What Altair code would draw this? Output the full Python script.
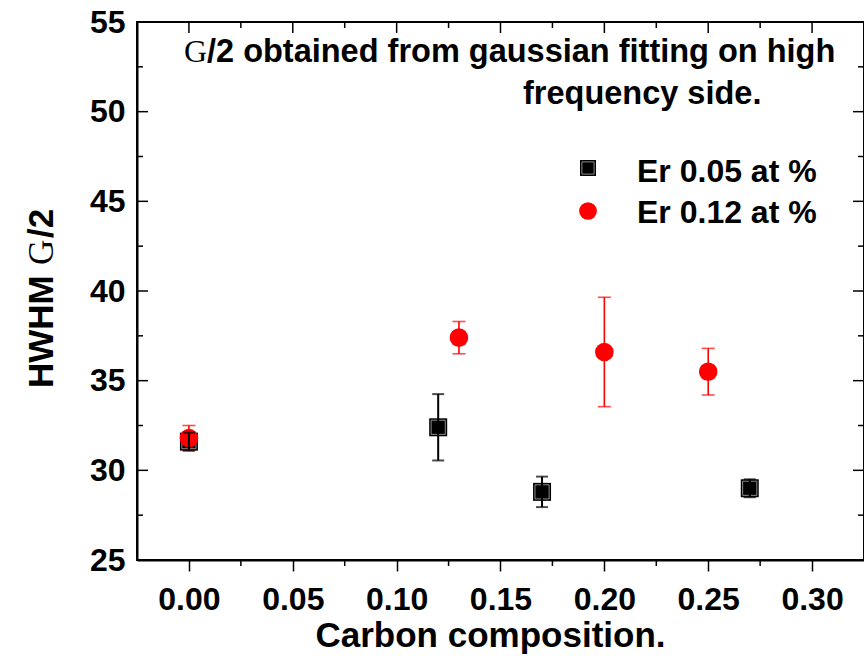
import altair as alt
import pandas as pd

# ---- data ----
X_BLACK = [0.00, 0.12, 0.17, 0.27]
Y_BLACK = [31.6, 32.4, 28.8, 29.0]
E_BLACK = [0.5, 1.85, 0.85, 0.5]

X_RED = [0.00, 0.13, 0.20, 0.25]
Y_RED = [31.8, 37.4, 36.6, 35.5]
E_RED = [0.7, 0.9, 3.05, 1.3]

X_MAJOR = [0.00, 0.05, 0.10, 0.15, 0.20, 0.25, 0.30]
X_MINOR = [0.025, 0.075, 0.125, 0.175, 0.225, 0.275]
Y_MAJOR = [25, 30, 35, 40, 45, 50, 55]
Y_MINOR = [27.5, 32.5, 37.5, 42.5, 47.5, 52.5]

SERIES = ["Er 0.05 at %", "Er 0.12 at %"]
NOTE_1 = "/2 obtained from gaussian fitting on high"
NOTE_2 = "frequency side."
X_TITLE = "Carbon composition."

W, H = 727, 538
SANS = "Liberation Sans"
SERIF = "Liberation Serif"
FS = 32

xs = alt.Scale(domain=[-0.025, 0.325], nice=False, zero=False)
ys = alt.Scale(domain=[25, 55], nice=False, zero=False)

AX_X = alt.Axis(values=X_MAJOR, format=".2f", tickSize=11, tickWidth=1.5,
                tickColor="black", domainColor="black", domainWidth=2,
                labelFont=SANS, labelFontSize=FS, labelFontWeight="bold",
                labelColor="black", labelPadding=13, grid=False,
                title=X_TITLE, titleFont=SANS, titleFontSize=35,
                titleFontWeight="bold", titleColor="black",
                titleX=353, titleY=86, titleBaseline="alphabetic",
                titleAlign="center")
AX_Y = alt.Axis(values=Y_MAJOR, ticks=False, tickSize=0, domainColor="black",
                domainWidth=2, labelFont=SANS, labelFontSize=FS,
                labelFontWeight="bold", labelColor="black", labelPadding=12,
                grid=False, title=None)

black = pd.DataFrame({"x": X_BLACK, "y": Y_BLACK, "e": E_BLACK})
red = pd.DataFrame({"x": X_RED, "y": Y_RED, "e": E_RED})

def X(field="x"):
    return alt.X(f"{field}:Q", scale=xs, axis=AX_X)

def Y(field="y"):
    return alt.Y(f"{field}:Q", scale=ys, axis=AX_Y)

# --- black squares ---
sq = alt.Chart(black).mark_point(shape="square", filled=True, color="black",
                                 size=324, opacity=1).encode(x=X(), y=Y())
sq_line = alt.Chart(black).mark_point(shape="square", filled=False, color="#b0b0b0",
                                      strokeWidth=0.8, size=200, opacity=1).encode(
    x=X(), y=Y())

circ = alt.Chart(red).mark_point(shape="circle", filled=True, color="#ff0000",
                                 size=346, opacity=1).encode(x=X(), y=Y())

def errbars(df, color, width, cap):
    base = alt.Chart(df).transform_calculate(lo="datum.y - datum.e",
                                             hi="datum.y + datum.e")
    rule = base.mark_rule(color=color, strokeWidth=width).encode(
        x=X(), y=Y("lo"), y2="hi:Q")
    top = base.mark_tick(color=color, thickness=width, size=cap,
                         orient="horizontal").encode(x=X(), y=Y("hi"))
    bot = base.mark_tick(color=color, thickness=width, size=cap,
                         orient="horizontal").encode(x=X(), y=Y("lo"))
    return [rule, top, bot]

red_err = errbars(red, "#ff0000", 1.6, 13)
black_err = errbars(black, "black", 2, 12)

# --- frame ticks (inward on left, top, right; minor ticks below) ---
def vticks(vals, x1, x2):
    return alt.Chart(pd.DataFrame({"v": vals})).mark_rule(color="black", strokeWidth=1.5).encode(
        y=Y("v"), x=alt.value(x1), x2=alt.value(x2))

def hticks(vals, y1, y2):
    return alt.Chart(pd.DataFrame({"v": vals})).mark_rule(color="black", strokeWidth=1.5).encode(
        x=X("v"), y=alt.value(y1), y2=alt.value(y2))

ticks = [
    vticks(Y_MAJOR, 0, 11), vticks(Y_MINOR, 0, 6),
    vticks(Y_MAJOR, W - 11, W), vticks(Y_MINOR, W - 6, W),
    hticks(X_MAJOR, 0, 11), hticks(X_MINOR, 0, 6),
    hticks(X_MINOR, H, H + 6),
]

# --- annotations ---
def txt(s, x, y, font=SANS, size=FS, weight="bold", angle=0, align="left",
        baseline="alphabetic"):
    return alt.Chart(pd.DataFrame({"t": [s]})).mark_text(
        font=font, fontSize=size, fontWeight=weight, angle=angle, align=align,
        baseline=baseline, color="black").encode(
        text="t:N", x=alt.value(x), y=alt.value(y))

notes = [
    txt("G", 47, 40, font=SERIF, weight="normal"),
    txt(NOTE_1, 70, 40, size=32.5),
    txt(NOTE_2, 386, 82, size=32.5),
    # y-axis title, rotated
    txt("HWHM", -95, 366, size=35, angle=270, baseline="middle"),
    txt("G", -95, 243, font=SERIF, size=35, weight="normal", angle=270, baseline="middle"),
    txt("/2", -95, 216, size=35, angle=270, baseline="middle"),
    # legend
    txt(SERIES[0], 500, 160),
    txt(SERIES[1], 500, 201),
]

leg_sq = alt.Chart(pd.DataFrame({"t": [SERIES[0]]})).mark_point(
    shape="square", filled=True, color="black", size=256, opacity=1).encode(
    x=alt.value(451), y=alt.value(146))
leg_sq_line = alt.Chart(pd.DataFrame({"t": [SERIES[0]]})).mark_point(
    shape="square", filled=False, color="#b0b0b0", strokeWidth=0.8, size=150,
    opacity=1).encode(x=alt.value(451), y=alt.value(146))
leg_circ = alt.Chart(pd.DataFrame({"t": [SERIES[1]]})).mark_point(
    shape="circle", filled=True, color="#ff0000", size=314, opacity=1).encode(
    x=alt.value(451), y=alt.value(189))

chart = alt.layer(
    sq, sq_line, circ, *red_err, *black_err, *ticks, *notes,
    leg_sq, leg_sq_line, leg_circ,
).properties(
    width=W, height=H,
    autosize=alt.AutoSizeParams(type="none"),
    padding={"left": 137, "top": 22, "right": 0, "bottom": 96},
    background="white",
).configure_view(stroke="black", strokeWidth=2)

chart.save("out.html", embed_options={"renderer": "svg", "actions": False})
